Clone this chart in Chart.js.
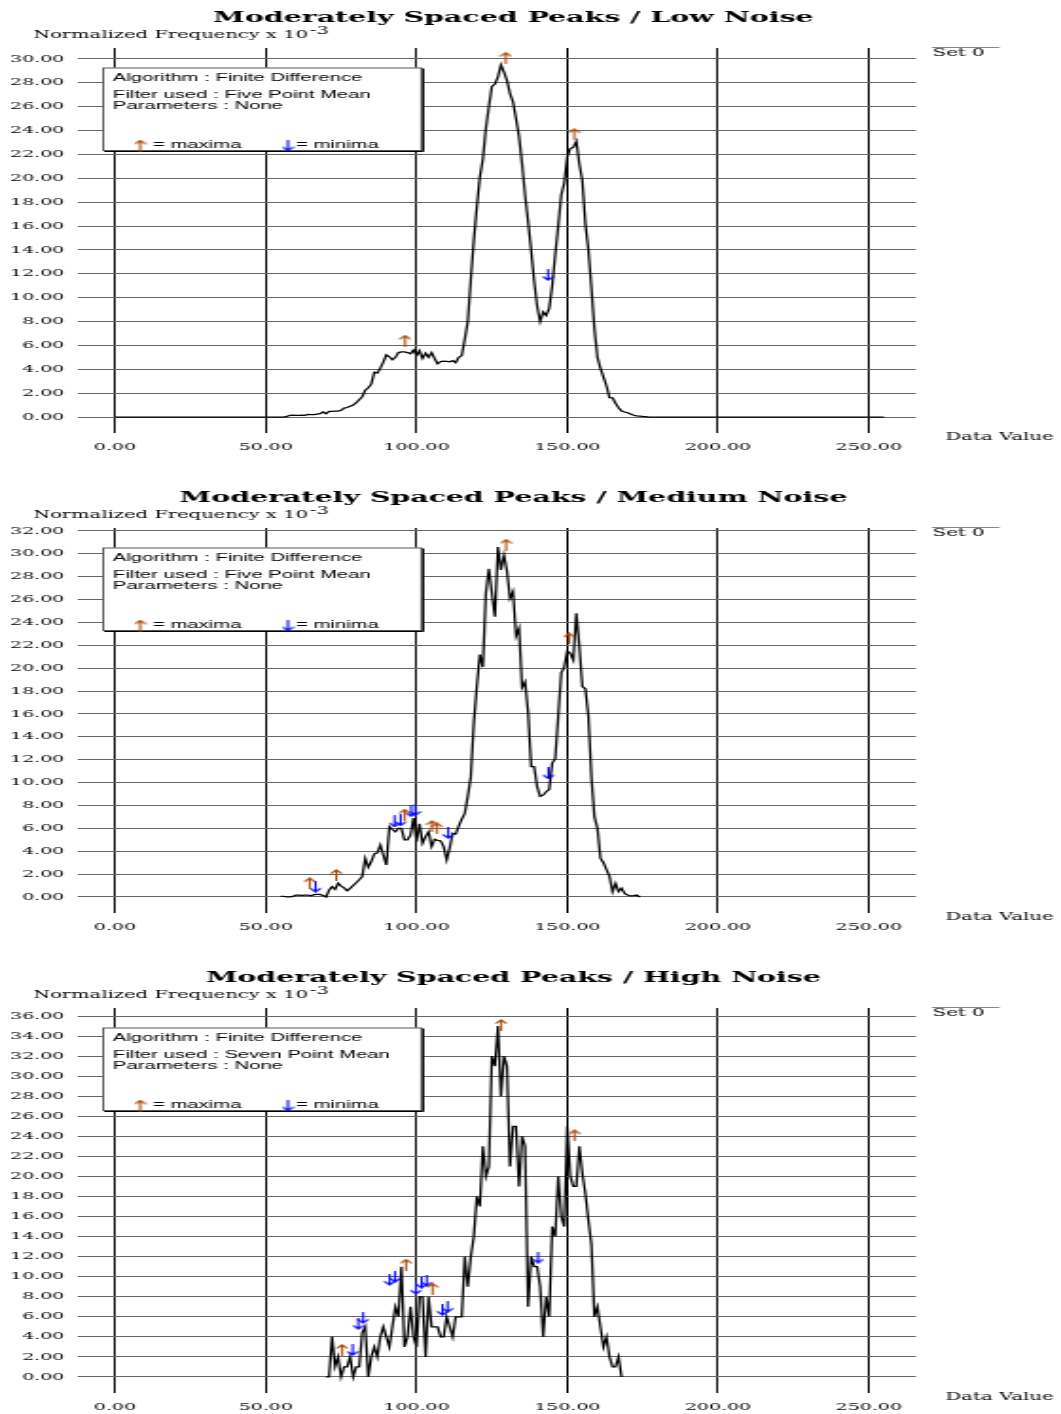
<!DOCTYPE html>
<html>
<head>
<meta charset="utf-8">
<title>Moderately Spaced Peaks</title>
<script src="https://cdn.jsdelivr.net/npm/chart.js@4.4.1/dist/chart.umd.min.js"></script>
<style>
  html, body { margin: 0; padding: 0; background: #fff; overflow: hidden; }
  /* the plots are drawn narrow and stretched sideways, like the old plotter output */
  canvas { display: block; width: 1061px !important; height: 480px !important; }
</style>
</head>
<body>
<canvas id="chartLow" width="560" height="480"></canvas>
<canvas id="chartMed" width="560" height="480"></canvas>
<canvas id="chartHigh" width="560" height="480"></canvas>
<script>
// ─── DATA ────────────────────────────────────────────────────────
const dataTicks = [0, 50, 100, 150, 200, 250];
const lowTicks  = [0, 2, 4, 6, 8, 10, 12, 14, 16, 18, 20, 22, 24, 26, 28, 30];
const medTicks  = [0, 2, 4, 6, 8, 10, 12, 14, 16, 18, 20, 22, 24, 26, 28, 30, 32];
const highTicks = [0, 2, 4, 6, 8, 10, 12, 14, 16, 18, 20, 22, 24, 26, 28, 30, 32, 34, 36];

// low noise histogram, data value 0 .. 255
const lowStart = 0;
const lowValues = [
  0, 0, 0, 0, 0, 0, 0, 0, 0, 0, 0, 0, 0, 0, 0, 0, 0, 0, 0, 0,
  0, 0, 0, 0, 0, 0, 0, 0, 0, 0, 0, 0, 0, 0, 0, 0, 0, 0, 0, 0,
  0, 0, 0, 0, 0, 0, 0, 0, 0, 0, 0, 0, 0, 0, 0, 0, 0,
  0.05, 0.14, 0.15, 0.14, 0.14, 0.15, 0.14, 0.22, 0.21, 0.2,
  0.24, 0.28, 0.42, 0.28, 0.47, 0.48, 0.49, 0.5, 0.56, 0.75,
  0.8, 0.9, 1.0, 1.2, 1.45, 1.7, 2.25, 2.45, 2.75, 3.75,
  3.68, 4.1, 4.6, 5.2, 5.05, 4.8, 5.0, 5.4, 5.45, 5.45,
  5.4, 5.3, 5.6, 5.15, 5.55, 4.9, 5.35, 5.0, 5.4, 4.9,
  4.45, 4.65, 4.68, 4.66, 4.62, 4.72, 4.55, 5.0, 5.15, 6.5,
  8.0, 11.5, 14.8, 17.6, 20.1, 21.6, 24.2, 26.0, 27.7, 27.9,
  28.5, 29.5, 28.9, 28.2, 27.1, 26.4, 25.0, 23.5, 21.2, 18.6,
  16.4, 14.0, 11.4, 9.3, 8.0, 8.8, 8.5, 9.1, 11.0, 13.6,
  16.0, 18.6, 19.6, 21.8, 22.5, 22.6, 23.1, 21.2, 19.8, 16.2,
  14.0, 10.8, 7.4, 5.0, 4.1, 3.35, 2.6, 1.62, 1.6, 1.15,
  0.78, 0.5, 0.42, 0.36, 0.25, 0.15, 0.1, 0.08, 0.05, 0.03,
  0, 0, 0, 0, 0, 0, 0, 0, 0, 0, 0, 0, 0, 0, 0, 0, 0, 0, 0, 0,
  0, 0, 0, 0, 0, 0, 0, 0, 0, 0, 0, 0, 0, 0, 0, 0, 0, 0, 0, 0,
  0, 0, 0, 0, 0, 0, 0, 0, 0, 0, 0, 0, 0, 0, 0, 0, 0, 0, 0, 0,
  0, 0, 0, 0, 0, 0, 0, 0, 0, 0, 0, 0, 0, 0, 0, 0, 0, 0, 0
];
const lowMaxX = [96.2, 129.6, 152.3];
const lowMaxY = [6.4, 30.1, 23.7];
const lowMinX = [143.6];
const lowMinY = [11.9];

// medium noise histogram, data value 55 .. 174
const medStart = 55;
const medValues = [
  0.05, 0.05, 0, 0, 0.05, 0.17, 0.17, 0.15, 0.16, 0.17,
  0.1, 0.2, 0.23, 0.22, 0.12, 0, 0.6, 0.9, 0.67, 1.2,
  0.95, 0.8, 0.55, 0.75, 1.0, 1.25, 1.5, 1.78, 3.38, 2.6,
  3.1, 3.76, 3.85, 4.55, 3.67, 2.8, 6.15, 5.9, 5.7, 6.0,
  6.0, 5.0, 5.0, 5.4, 6.9, 4.84, 6.4, 4.7, 5.28, 5.7,
  4.4, 5.04, 4.95, 4.9, 4.4, 3.24, 4.3, 5.57, 5.5, 6.2,
  6.8, 7.3, 8.8, 10.5, 15.2, 18.4, 21.2, 20.1, 26.6, 28.7,
  26.6, 24.5, 30.6, 28.6, 29.9, 28.5, 26.1, 26.7, 22.8, 23.5,
  18.3, 18.8, 16.2, 11.4, 11.4, 9.65, 8.8, 8.9, 9.2, 9.4,
  11.7, 12.1, 15.8, 19.6, 20.1, 21.5, 21.3, 20.7, 24.8, 21.9,
  18.4, 18.2, 15.8, 10.5, 7.0, 6.0, 3.4, 3.0, 2.4, 1.8,
  0.47, 1.2, 0.47, 0.76, 0.32, 0.17, 0.09, 0.12, 0.17, 0
];
const medMaxX = [64.6, 73.4, 96.1, 105.1, 106.8, 129.7, 150.6];
const medMaxY = [1.2, 1.92, 7.2, 6.2, 6.0, 30.8, 22.6];
const medMinX = [66.5, 92.7, 94.7, 98.2, 99.6, 110.5, 143.7];
const medMinY = [0.9, 6.6, 6.7, 7.5, 7.6, 5.6, 10.8];

// high noise histogram, data value 70 .. 168
const highStart = 70;
const highValues = [
  0, 0, 4.0, 1.05, 2.0, 0, 1.0, 1.0, 2.0, 0,
  1.0, 1.0, 4.4, 5.0, 0, 2.0, 3.0, 2.0, 4.0, 5.0,
  4.0, 3.0, 5.0, 7.0, 6.0, 11.0, 3.0, 4.0, 7.0, 4.0,
  3.0, 8.0, 8.0, 2.0, 8.0, 5.0, 5.0, 5.0, 4.0, 4.0,
  6.0, 5.0, 4.0, 6.0, 6.0, 6.0, 12.0, 9.0, 12.0, 14.0,
  18.0, 17.0, 23.0, 20.0, 21.0, 32.0, 31.0, 35.0, 28.0, 32.0,
  31.0, 21.0, 25.0, 25.0, 19.0, 24.0, 23.0, 7.0, 12.0, 11.0,
  11.0, 9.0, 4.0, 8.0, 6.0, 15.0, 14.0, 20.0, 16.0, 15.0,
  25.0, 20.0, 19.0, 19.0, 23.0, 20.3, 18.3, 15.6, 13.2, 6.0,
  7.0, 5.0, 3.0, 4.0, 2.0, 1.0, 1.0, 2.0, 0
];
const highMaxX = [75.3, 96.5, 105.3, 128.0, 152.4];
const highMaxY = [2.7, 11.2, 8.8, 35.1, 24.1];
const highMinX = [78.8, 80.7, 82.3, 91.1, 92.9, 99.8, 101.7, 103.4, 108.6, 110.3, 140.3];
const highMinY = [2.7, 5.3, 5.9, 9.7, 10.0, 8.8, 9.4, 9.6, 6.7, 7.0, 11.9];

const maxColor = '#b04800';
const minColor = '#0000ff';

const panels = [
  { id: 'chartLow', title: 'Moderately Spaced Peaks / Low Noise', filter: 'Five Point Mean',
    start: lowStart, values: lowValues, yTicks: lowTicks, yMin: -1.34, yMax: 30.92,
    maxX: lowMaxX, maxY: lowMaxY, minX: lowMinX, minY: lowMinY },
  { id: 'chartMed', title: 'Moderately Spaced Peaks / Medium Noise', filter: 'Five Point Mean',
    start: medStart, values: medValues, yTicks: medTicks, yMin: -1.4, yMax: 32.26,
    maxX: medMaxX, maxY: medMaxY, minX: medMinX, minY: medMinY },
  { id: 'chartHigh', title: 'Moderately Spaced Peaks / High Noise', filter: 'Seven Point Mean',
    start: highStart, values: highValues, yTicks: highTicks, yMin: -1.6, yMax: 36.8,
    maxX: highMaxX, maxY: highMaxY, minX: highMinX, minY: highMinY }
];

// ─── HELPERS ─────────────────────────────────────────────────────
function toPoints(start, values) {
  return values.map((v, i) => ({ x: start + i, y: v }));
}

function toMarks(xs, ys) {
  return xs.map((x, i) => ({ x: x, y: ys[i] }));
}

// small arrow sprite used as point style for maxima / minima
function arrowImage(color, down) {
  const c = document.createElement('canvas');
  c.width = 7; c.height = 12;
  const g = c.getContext('2d');
  g.strokeStyle = color;
  g.lineWidth = 1.1;
  g.lineCap = 'round';
  g.beginPath();
  if (down) {
    g.moveTo(3.5, 0.5); g.lineTo(3.5, 11);
    g.moveTo(1, 7.8); g.lineTo(3.5, 11); g.lineTo(6, 7.8);
  } else {
    g.moveTo(3.5, 11.5); g.lineTo(3.5, 1);
    g.moveTo(1, 4.2); g.lineTo(3.5, 1); g.lineTo(6, 4.2);
  }
  g.stroke();
  return c;
}

const upArrow   = arrowImage(maxColor, false);
const downArrow = arrowImage(minColor, true);

// titles, axis captions and the algorithm box
const panelText = {
  id: 'panelText',
  afterDraw(chart, args, opts) {
    const ctx = chart.ctx;
    ctx.save();
    ctx.fillStyle = '#000';
    ctx.textBaseline = 'alphabetic';

    ctx.textAlign = 'center';
    ctx.font = 'bold 15px "DejaVu Serif"';
    ctx.fillText(opts.title, 271, 21.5);

    ctx.textAlign = 'left';
    ctx.font = '10.3px "DejaVu Serif"';
    const cap = 'Normalized Frequency x 10';
    ctx.fillText(cap, 17.4, 37.8);
    ctx.fillText('-3', 17.4 + ctx.measureText(cap).width + 1, 33.5);
    ctx.font = '10.4px "DejaVu Serif"';
    ctx.fillText('Set 0', 492.3, 55.5);
    ctx.fillText('Data Value', 499, 440);

    ctx.strokeStyle = '#888';
    ctx.lineWidth = 1;
    ctx.beginPath();
    ctx.moveTo(491.8, 47.5);
    ctx.lineTo(527.5, 47.5);
    ctx.stroke();

    // algorithm box
    const bx = 54, by = 67.5, bw = 168.9, bh = 83.5;
    ctx.fillStyle = '#fff';
    ctx.fillRect(bx, by, bw, bh);
    ctx.strokeStyle = '#555';
    ctx.strokeRect(bx + 0.5, by + 0.5, bw - 1, bh - 1);
    ctx.strokeStyle = '#000';
    ctx.beginPath();
    ctx.moveTo(bx + bw + 0.5, by + 1);
    ctx.lineTo(bx + bw + 0.5, by + bh + 0.5);
    ctx.lineTo(bx + 1, by + bh + 0.5);
    ctx.stroke();

    ctx.fillStyle = '#000';
    ctx.font = '10.7px "Liberation Sans"';
    ctx.fillText('Algorithm : Finite Difference', 59.6, 81);
    ctx.fillText('Filter used : ' + opts.filter, 59.6, 97.8);
    ctx.fillText('Parameters : None', 59.6, 109.4);
    ctx.fillText('= maxima', 80.7, 147.8);
    ctx.fillText('= minima', 156.2, 147.8);
    ctx.drawImage(upArrow, 70.5, 139.5);
    ctx.drawImage(downArrow, 148.5, 139.5);

    ctx.restore();
  }
};

// ─── CHARTS ──────────────────────────────────────────────────────
panels.forEach(p => {
  new Chart(document.getElementById(p.id), {
    type: 'line',
    data: {
      datasets: [
        {
          data: toPoints(p.start, p.values),
          borderColor: '#000',
          borderWidth: 1.25,
          pointRadius: 0,
          tension: 0,
          order: 2
        },
        {
          type: 'scatter',
          data: toMarks(p.maxX, p.maxY),
          pointStyle: upArrow,
          pointRadius: 3,
          order: 1
        },
        {
          type: 'scatter',
          data: toMarks(p.minX, p.minY),
          pointStyle: downArrow,
          pointRadius: 3,
          order: 1
        }
      ]
    },
    options: {
      responsive: false,
      devicePixelRatio: 1,
      animation: false,
      events: [],
      layout: { padding: { top: 48, right: 76.6, left: 0, bottom: 0 } },
      scales: {
        x: {
          type: 'linear',
          min: -12.6,
          max: 265.6,
          afterBuildTicks: s => { s.ticks = dataTicks.map(v => ({ value: v })); },
          afterFit: s => { s.height = 47; },
          border: { display: false },
          grid: { color: '#000', lineWidth: 1, drawTicks: false },
          ticks: {
            padding: 8,
            color: '#000',
            maxRotation: 0,
            font: { family: 'DejaVu Serif', size: 10 },
            callback: v => Number(v).toFixed(2)
          }
        },
        y: {
          type: 'linear',
          min: p.yMin,
          max: p.yMax,
          afterBuildTicks: s => { s.ticks = p.yTicks.map(v => ({ value: v })); },
          afterFit: s => { s.width = 40.6; },
          border: { display: false },
          grid: { color: '#666', lineWidth: 1, drawTicks: false },
          ticks: {
            padding: 6.7,
            color: '#000',
            font: { family: 'DejaVu Serif', size: 10 },
            callback: v => Number(v).toFixed(2)
          }
        }
      },
      plugins: {
        legend: { display: false },
        tooltip: { enabled: false },
        panelText: { title: p.title, filter: p.filter }
      }
    },
    plugins: [panelText]
  });
});
</script>
</body>
</html>
